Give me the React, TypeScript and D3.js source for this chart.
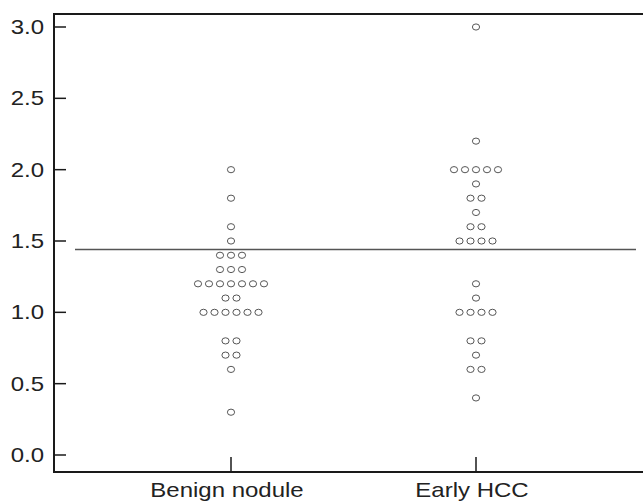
import React from "react";
import * as d3 from "d3";

const categories = ["Benign nodule", "Early HCC"];
const benignValues = [
  2.0, 1.8, 1.6, 1.5,
  1.4, 1.4, 1.4,
  1.3, 1.3, 1.3,
  1.2, 1.2, 1.2, 1.2, 1.2, 1.2, 1.2,
  1.1, 1.1,
  1.0, 1.0, 1.0, 1.0, 1.0, 1.0,
  0.8, 0.8, 0.7, 0.7, 0.6, 0.3,
];
const hccValues = [
  3.0, 2.2,
  2.0, 2.0, 2.0, 2.0, 2.0,
  1.9, 1.8, 1.8, 1.7, 1.6, 1.6,
  1.5, 1.5, 1.5, 1.5,
  1.2, 1.1,
  1.0, 1.0, 1.0, 1.0,
  0.8, 0.8, 0.7, 0.6, 0.6, 0.4,
];
const yTicks = [0, 0.5, 1.0, 1.5, 2.0, 2.5, 3.0];
const cutoff = 1.44;

const W = 643;
const H = 501;
const SX = 1.2; // horizontal stretch of the original figure

export default function App() {
  const y = d3.scaleLinear().domain([0, 3]).range([455, 27]);
  const x = d3.scalePoint<string>().domain(categories).range([231, 476]);
  const axisX = 54;
  const axisY = 472;
  const topY = 14;
  const dotStep = 11;

  const series = [benignValues, hccValues];
  const dots: { cx: number; cy: number; key: string }[] = [];
  series.forEach((vals, si) => {
    const groups = d3.group(vals, (v) => v.toFixed(2));
    groups.forEach((arr, k) => {
      const n = arr.length;
      arr.forEach((v, i) => {
        dots.push({
          cx: (x(categories[si]) as number) + (i - (n - 1) / 2) * dotStep,
          cy: y(v),
          key: `${si}-${k}-${i}`,
        });
      });
    });
  });

  const font = "'Liberation Sans', Arial, Helvetica, sans-serif";

  return (
    <svg
      width={W}
      height={H}
      style={{ position: "absolute", left: 0, top: 0, background: "#fff" }}
    >
      {/* cutoff line */}
      <line
        x1={75}
        x2={636}
        y1={y(cutoff)}
        y2={y(cutoff)}
        stroke="#555"
        strokeWidth={1.5}
      />
      {/* dots */}
      {dots.map((d) => (
        <ellipse
          key={d.key}
          cx={d.cx}
          cy={d.cy}
          rx={3.6}
          ry={3.1}
          fill="#fff"
          stroke="#444"
          strokeWidth={0.9}
        />
      ))}
      {/* frame */}
      <line x1={axisX} x2={W} y1={topY} y2={topY} stroke="#1a1a1a" strokeWidth={2} />
      <line x1={axisX} x2={W} y1={axisY} y2={axisY} stroke="#1a1a1a" strokeWidth={2} />
      <line x1={axisX} x2={axisX} y1={topY - 1} y2={axisY + 1} stroke="#1a1a1a" strokeWidth={2} />
      {/* y ticks */}
      {yTicks.map((t) => (
        <g key={t}>
          <line
            x1={axisX}
            x2={axisX + 12}
            y1={y(t)}
            y2={y(t)}
            stroke="#1a1a1a"
            strokeWidth={1.5}
          />
          <g transform={`translate(44,${y(t) + 7}) scale(${SX},1)`}>
            <text textAnchor="end" fontFamily={font} fontSize={20} fill="#222">
              {t.toFixed(1)}
            </text>
          </g>
        </g>
      ))}
      {/* x ticks */}
      {categories.map((c) => (
        <g key={c}>
          <line
            x1={x(c)}
            x2={x(c)}
            y1={axisY}
            y2={axisY - 15}
            stroke="#1a1a1a"
            strokeWidth={1.5}
          />
          <g transform={`translate(${(x(c) as number) - 4},497) scale(${SX},1)`}>
            <text textAnchor="middle" fontFamily={font} fontSize={20} fill="#222">
              {c}
            </text>
          </g>
        </g>
      ))}
    </svg>
  );
}
